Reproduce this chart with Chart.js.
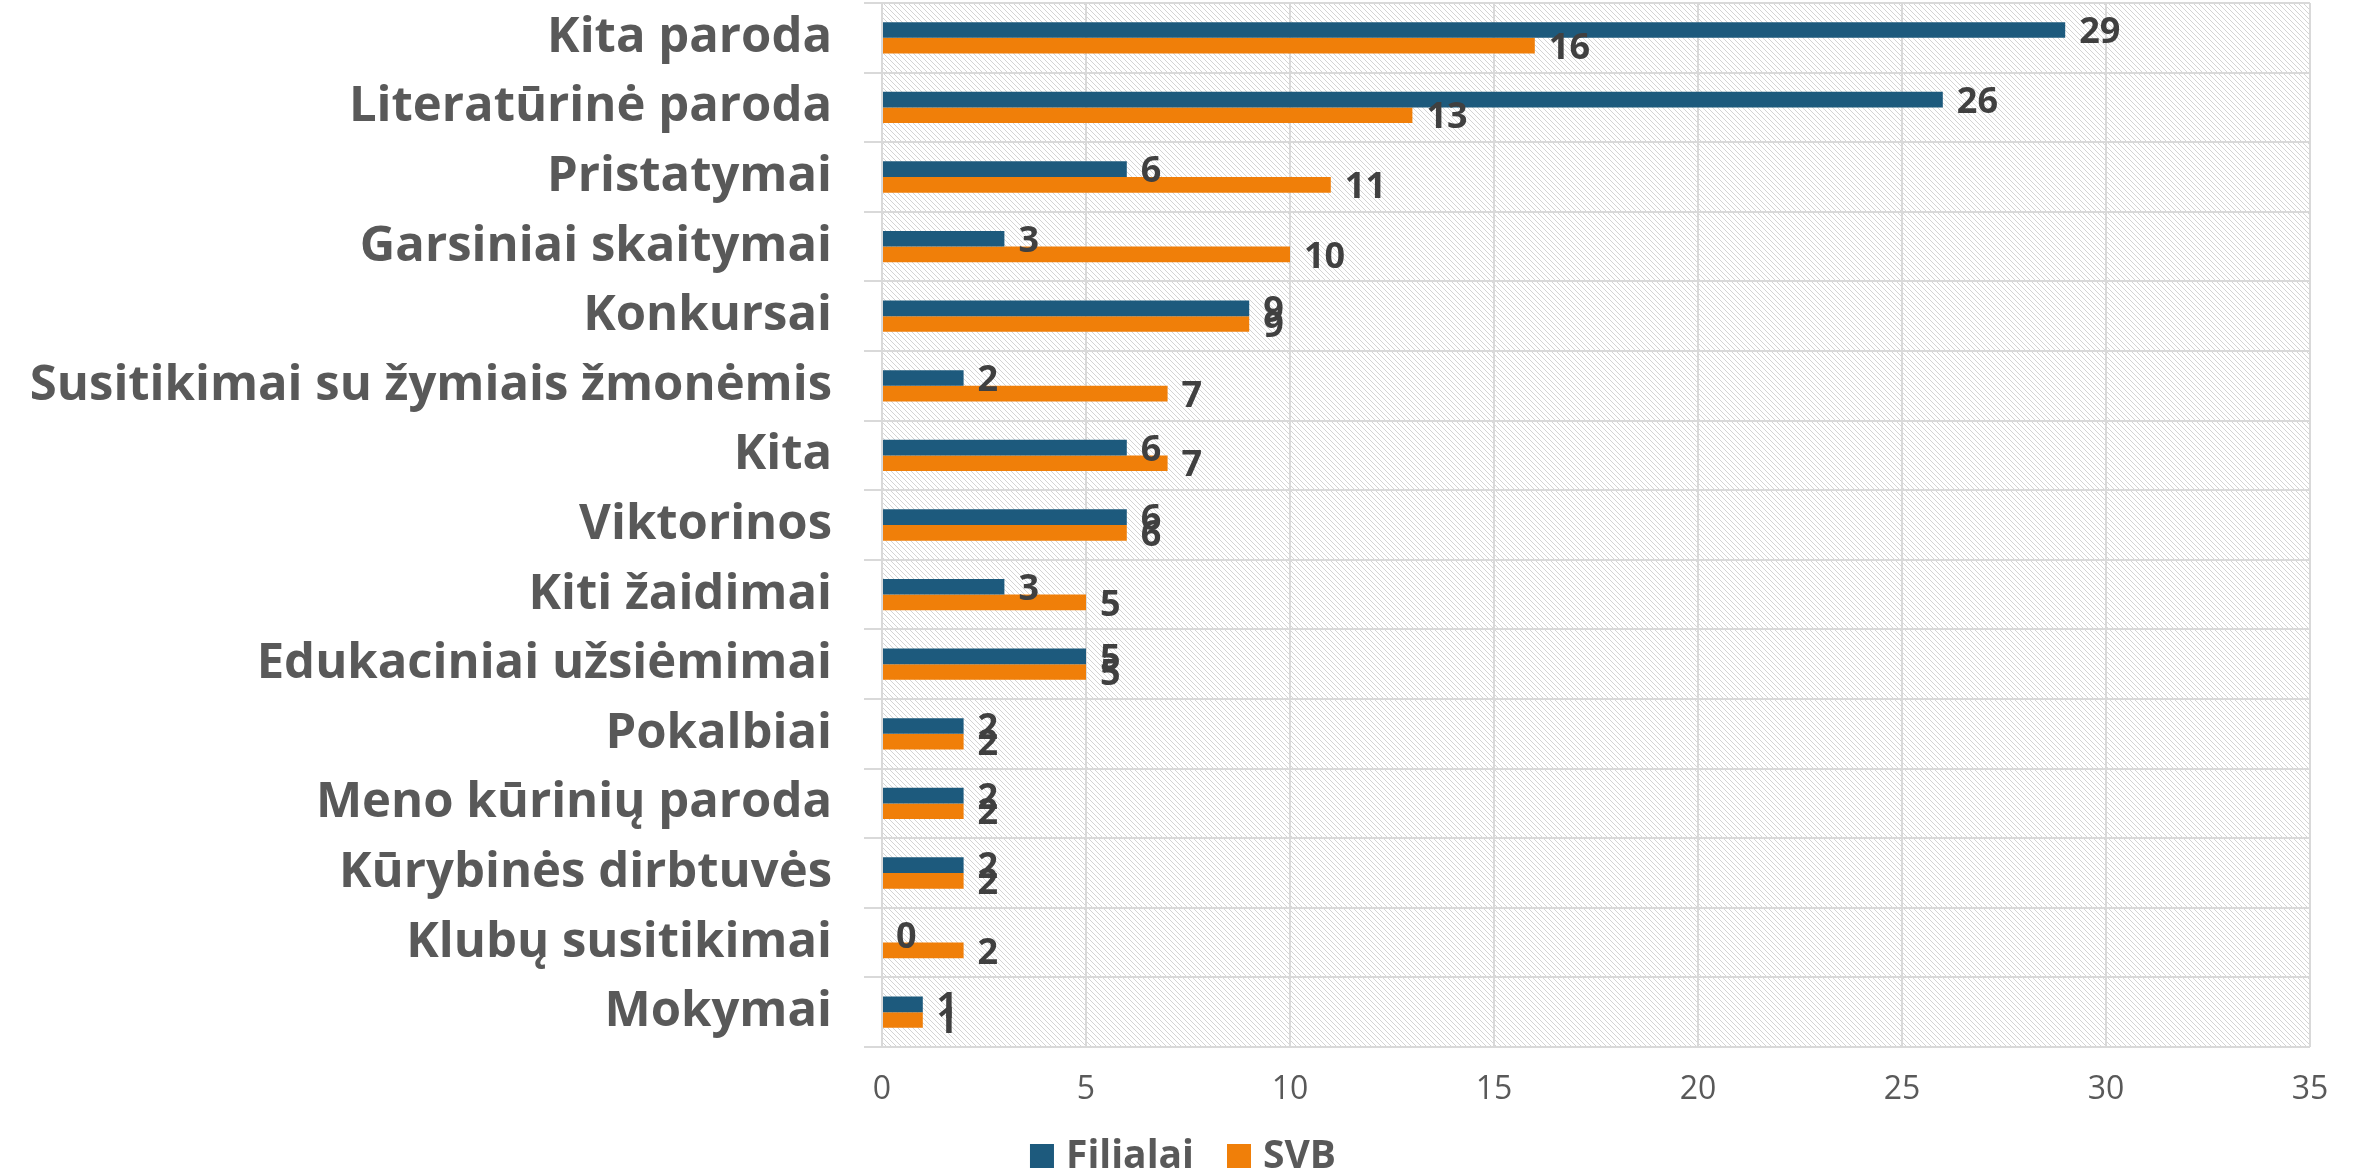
<!DOCTYPE html>
<html>
<head>
<meta charset="utf-8">
<script src="https://cdn.jsdelivr.net/npm/chart.js@4"></script>
<style>
  html, body { margin: 0; padding: 0; background: #ffffff; }
  #grafikas_wrap { width: 2358px; height: 1173px; }
</style>
</head>
<body>
<div id="grafikas_wrap"><canvas id="grafikas"></canvas></div>
<script>
// Duomenys
let kategorijos = [
    'Kita paroda',
    'Literatūrinė paroda',
    'Pristatymai',
    'Garsiniai skaitymai',
    'Konkursai',
    'Susitikimai su žymiais žmonėmis',
    'Kita',
    'Viktorinos',
    'Kiti žaidimai',
    'Edukaciniai užsiėmimai',
    'Pokalbiai',
    'Meno kūrinių paroda',
    'Kūrybinės dirbtuvės',
    'Klubų susitikimai',
    'Mokymai'
]
let filialai = [29, 26, 6, 3, 9, 2, 6, 6, 3, 5, 2, 2, 2, 0, 1]
let svb = [16, 13, 11, 10, 9, 7, 7, 6, 5, 5, 2, 2, 2, 2, 1]
let xTicks = [0, 5, 10, 15, 20, 25, 30, 35]

let sriftas = "'Open Sans', 'DejaVu Sans', sans-serif"

// Brūkšniuotas fonas
function sukurtiRasta() {
    let c = document.createElement('canvas')
    c.width = 5
    c.height = 5
    let g = c.getContext('2d')
    g.fillStyle = '#ffffff'
    g.fillRect(0, 0, 5, 5)
    g.strokeStyle = '#d4d4d4'
    g.lineWidth = 1
    g.beginPath()
    g.moveTo(-1, -1); g.lineTo(6, 6)
    g.moveTo(-1, 4); g.lineTo(1, 6)
    g.moveTo(4, -1); g.lineTo(6, 1)
    g.stroke()
    return c
}

let fonoPlugin = {
    id: 'fonas',
    beforeDraw(chart) {
        let ctx = chart.ctx
        let a = chart.chartArea
        ctx.save()
        ctx.fillStyle = ctx.createPattern(sukurtiRasta(), 'repeat')
        ctx.fillRect(a.left, a.top, a.right - a.left, a.bottom - a.top)
        ctx.restore()
    }
}

// Reikšmių etiketės
let etiketesPlugin = {
    id: 'etiketes',
    afterDatasetsDraw(chart) {
        let ctx = chart.ctx
        ctx.save()
        ctx.font = "bold 36px " + sriftas
        ctx.fillStyle = '#404040'
        ctx.textAlign = 'left'
        ctx.textBaseline = 'middle'
        chart.data.datasets.forEach(function (ds, i) {
            let meta = chart.getDatasetMeta(i)
            meta.data.forEach(function (bar, j) {
                ctx.fillText(String(ds.data[j]), bar.x + 14, bar.y + 3)
            })
        })
        ctx.restore()
    }
}

// Legenda apačioje
let legendosPlugin = {
    id: 'legenda',
    afterDraw(chart) {
        let ctx = chart.ctx
        ctx.save()
        ctx.font = "bold 39px " + sriftas
        ctx.textBaseline = 'alphabetic'
        ctx.textAlign = 'left'
        let dezute = 24, tarpas = 12, tarpasTarp = 33
        let plotis = 0
        chart.data.datasets.forEach(function (ds, i) {
            plotis += dezute + tarpas + ctx.measureText(ds.label).width
            if (i > 0) plotis += tarpasTarp
        })
        let x = chart.width / 2 + 4 - plotis / 2
        let apacia = 1168
        chart.data.datasets.forEach(function (ds) {
            ctx.fillStyle = ds.backgroundColor
            ctx.fillRect(x, apacia - dezute, dezute, dezute)
            x += dezute + tarpas
            ctx.fillStyle = '#595959'
            ctx.fillText(ds.label, x, apacia)
            x += ctx.measureText(ds.label).width + tarpasTarp
        })
        ctx.restore()
    }
}

new Chart(document.getElementById('grafikas'), {
    type: 'bar',
    data: {
        labels: kategorijos,
        datasets: [
            {
                label: 'Filialai',
                data: filialai,
                backgroundColor: '#1d5a7d',
                categoryPercentage: 0.45,
                barPercentage: 1.0
            },
            {
                label: 'SVB',
                data: svb,
                backgroundColor: '#f07f09',
                categoryPercentage: 0.45,
                barPercentage: 1.0
            }
        ]
    },
    options: {
        indexAxis: 'y',
        responsive: true,
        maintainAspectRatio: false,
        animation: false,
        layout: {
            padding: { top: 3, right: 48, left: 0, bottom: 0 }
        },
        scales: {
            x: {
                min: 0,
                max: 35,
                afterBuildTicks: function (scale) {
                    scale.ticks = xTicks.map(v => ({ value: v }))
                },
                grid: { color: '#d9d9d9', lineWidth: 2, drawTicks: false },
                border: { display: false },
                afterFit: function (scale) {
                    scale.height = 126
                    scale.paddingLeft = 0
                    scale.paddingRight = 0
                },
                ticks: {
                    color: '#595959',
                    padding: 24,
                    font: { family: sriftas, size: 32 }
                }
            },
            y: {
                grid: { color: '#d9d9d9', lineWidth: 2, tickLength: 18, offset: true },
                border: { display: false },
                afterFit: function (scale) {
                    scale.width = 882
                    scale.paddingTop = 0
                    scale.paddingBottom = 0
                },
                ticks: {
                    autoSkip: false,
                    color: '#595959',
                    padding: 32,
                    font: { family: sriftas, size: 49, weight: 'bold' }
                }
            }
        },
        plugins: {
            legend: { display: false },
            tooltip: { enabled: false }
        }
    },
    plugins: [fonoPlugin, etiketesPlugin, legendosPlugin]
})
</script>
</body>
</html>
